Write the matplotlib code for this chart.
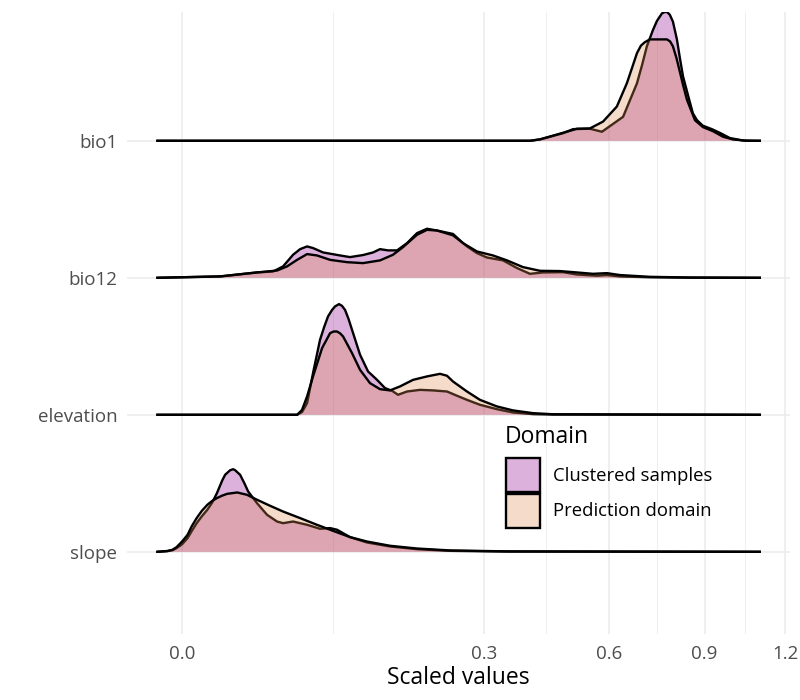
import numpy as np
import matplotlib.pyplot as plt
from matplotlib.patches import Patch
from matplotlib.colors import to_rgba

plt.rcParams['font.family'] = ['Open Sans', 'DejaVu Sans']

# rows from bottom to top
variables = ['slope', 'elevation', 'bio12', 'bio1']
domains = ['Clustered samples', 'Prediction domain']

x_breaks = [0.0, 0.3, 0.6, 0.9, 1.2]
x_minor = [0.075, 0.437, 0.742, 1.045]

# ridge heights are given in units of the row spacing
bio1_clu_x = [-0.002, 0.399, 0.422, 0.478, 0.504, 0.548, 0.581, 0.641, 0.682, 0.697, 0.712, 0.731,
              0.7432, 0.759, 0.768, 0.775, 0.784, 0.794, 0.807, 0.817, 0.827, 0.850, 0.860, 0.874,
              0.894, 0.925, 0.953, 0.989, 1.037, 1.100]
bio1_clu_h = [0, 0, 0.01, 0.055, 0.085, 0.088, 0.066, 0.175, 0.42, 0.55, 0.69, 0.81,
              0.875, 0.93, 0.94, 0.94, 0.92, 0.87, 0.74, 0.60, 0.47, 0.28, 0.20, 0.15,
              0.11, 0.085, 0.058, 0.02, 0.002, 0]
bio1_pre_x = [-0.002, 0.399, 0.422, 0.478, 0.514, 0.548, 0.584, 0.623, 0.652, 0.667, 0.682, 0.694,
              0.706, 0.721, 0.775, 0.785, 0.794, 0.806, 0.817, 0.828, 0.840, 0.867, 0.894, 0.929,
              0.964, 1.000, 1.051, 1.100]
bio1_pre_h = [0, 0, 0.01, 0.058, 0.088, 0.09, 0.14, 0.25, 0.42, 0.53, 0.64, 0.695,
              0.72, 0.74, 0.74, 0.725, 0.69, 0.60, 0.50, 0.40, 0.30, 0.15, 0.10, 0.07,
              0.03, 0.01, 0, 0]

bio12_clu_x = [-0.002, 0.0048, 0.0185, 0.0273, 0.0336, 0.0406, 0.0459, 0.0515, 0.0565, 0.0655,
               0.0822, 0.0930, 0.1079, 0.1202, 0.1291, 0.1398, 0.1523, 0.1668, 0.1819, 0.1977,
               0.2142, 0.2419, 0.2601, 0.2675, 0.2866, 0.3064, 0.3394, 0.3697, 0.3989, 0.4293,
               0.4781, 0.5139, 0.5673, 0.5949, 0.6319, 0.7214, 0.85, 1.10]
bio12_clu_h = [0, 0.01, 0.039, 0.046, 0.083, 0.168, 0.209, 0.229, 0.217, 0.185,
               0.163, 0.151, 0.166, 0.185, 0.209, 0.2, 0.2, 0.253, 0.326, 0.358,
               0.345, 0.32, 0.253, 0.229, 0.18, 0.148, 0.127, 0.071, 0.029, 0.039,
               0.041, 0.024, 0.015, 0.02, 0.01, 0.004, 0.001, 0]
bio12_pre_x = [-0.002, 0.0048, 0.0185, 0.0297, 0.0363, 0.0436, 0.0515, 0.0600, 0.0722, 0.0897,
               0.1079, 0.1291, 0.1466, 0.1609, 0.1819, 0.1977, 0.2142, 0.2419, 0.2601, 0.2866,
               0.3186, 0.3479, 0.3830, 0.4222, 0.4706, 0.5139, 0.5564, 0.5949, 0.6319, 0.7214,
               0.85, 1.10]
bio12_pre_h = [0, 0.01, 0.039, 0.053, 0.083, 0.131, 0.173, 0.163, 0.131, 0.114,
               0.107, 0.127, 0.168, 0.224, 0.314, 0.35, 0.345, 0.31, 0.253, 0.192,
               0.163, 0.127, 0.078, 0.051, 0.049, 0.039, 0.029, 0.034, 0.02, 0.007,
               0.002, 0]

elev_clu_x = [-0.002, 0.0436, 0.0474, 0.0515, 0.0565, 0.0627, 0.0665, 0.0702, 0.0741, 0.0771,
              0.0812, 0.0843, 0.0875, 0.0913, 0.0952, 0.1044, 0.1140, 0.1253, 0.1357, 0.1453,
              0.1537, 0.1668, 0.1866, 0.2075, 0.2313, 0.2491, 0.2675, 0.2925, 0.3268, 0.3609,
              0.4058, 0.4534, 1.10]
elev_clu_h = [0, 0, 0.02, 0.085, 0.304, 0.547, 0.64, 0.718, 0.765, 0.791,
              0.808, 0.795, 0.766, 0.70, 0.62, 0.438, 0.316, 0.255, 0.195, 0.175,
              0.146, 0.17, 0.182, 0.178, 0.17, 0.139, 0.109, 0.073, 0.041, 0.017,
              0.005, 0.002, 0]
elev_pre_x = [-0.002, 0.0436, 0.0474, 0.0515, 0.0565, 0.0646, 0.0722, 0.0757, 0.0791, 0.0822,
              0.0854, 0.0952, 0.1044, 0.1164, 0.1291, 0.1425, 0.1565, 0.1758, 0.1977, 0.2193,
              0.2313, 0.2419, 0.2675, 0.2925, 0.3268, 0.3609, 0.4058, 0.4534, 1.10]
elev_pre_h = [0, 0, 0.035, 0.134, 0.28, 0.487, 0.596, 0.608, 0.608, 0.595,
              0.572, 0.45, 0.328, 0.231, 0.187, 0.178, 0.207, 0.255, 0.28, 0.299,
              0.285, 0.243, 0.17, 0.109, 0.061, 0.032, 0.012, 0.004, 0]

slope_clu_x = [-0.002, -0.0007, -0.0003, -0.0001, 0.0, 0.0001, 0.0003, 0.0007, 0.0013, 0.0021,
               0.0030, 0.0040, 0.0053, 0.0061, 0.0076, 0.0086, 0.0093, 0.0111, 0.0128, 0.0144,
               0.0185, 0.0238, 0.0297, 0.0336, 0.0406, 0.0515, 0.0627, 0.0722, 0.0791, 0.0930,
               0.1127, 0.1425, 0.1819, 0.2366, 0.35, 1.10]
slope_clu_h = [0, 0.005, 0.012, 0.027, 0.055, 0.1, 0.15, 0.209, 0.26, 0.307,
               0.36, 0.428, 0.52, 0.562, 0.595, 0.603, 0.595, 0.562, 0.5, 0.44,
               0.355, 0.27, 0.221, 0.209, 0.221, 0.197, 0.168, 0.173, 0.161, 0.107,
               0.068, 0.039, 0.019, 0.007, 0.002, 0]
slope_pre_x = [-0.002, -0.0007, -0.0003, -0.0001, 0.0, 0.0001, 0.0003, 0.0007, 0.0013, 0.0021,
               0.0030, 0.0040, 0.0053, 0.0067, 0.0100, 0.0139, 0.0185, 0.0255, 0.0336, 0.0459,
               0.0600, 0.0722, 0.0930, 0.1127, 0.1425, 0.1819, 0.2366, 0.35, 1.10]
slope_pre_h = [0, 0.006, 0.015, 0.034, 0.075, 0.124, 0.185, 0.246, 0.30, 0.343,
               0.372, 0.392, 0.41, 0.423, 0.433, 0.416, 0.38, 0.336, 0.294, 0.246,
               0.197, 0.161, 0.107, 0.075, 0.044, 0.024, 0.01, 0.003, 0]

ridges = {
    'bio1': [(bio1_clu_x, bio1_clu_h), (bio1_pre_x, bio1_pre_h)],
    'bio12': [(bio12_clu_x, bio12_clu_h), (bio12_pre_x, bio12_pre_h)],
    'elevation': [(elev_clu_x, elev_clu_h), (elev_pre_x, elev_pre_h)],
    'slope': [(slope_clu_x, slope_clu_h), (slope_pre_x, slope_pre_h)],
}

fills = [to_rgba('#8B008B', 0.3), to_rgba('#E18A52', 0.3)]
grid_col = '#EBEBEB'


def fwd(x):
    x = np.asarray(x, dtype=float)
    return np.sign(x) * np.sqrt(np.abs(x))


def inv(x):
    x = np.asarray(x, dtype=float)
    return np.sign(x) * x ** 2


fig = plt.figure(figsize=(8, 7), dpi=100)
ax = fig.add_axes([127 / 800, 66 / 700, 663 / 800, 622 / 700])
ax.set_xscale('function', functions=(fwd, inv))

# grid
for xb in x_breaks:
    ax.axvline(xb, color=grid_col, lw=1.1, zorder=0)
for xm in x_minor:
    ax.axvline(xm, color=grid_col, lw=0.55, zorder=0)
for i in range(len(variables)):
    ax.axhline(i + 1, color=grid_col, lw=1.1, zorder=0)

# ridges, top row first so lower rows sit in front
z = 1
for i in reversed(range(len(variables))):
    base = i + 1
    for (xs, hs), fc in zip(ridges[variables[i]], fills):
        xs = np.array(xs)
        ys = base + np.array(hs)
        ax.fill_between(xs, base, ys, facecolor=fc, edgecolor='none', zorder=z)
        ax.plot(xs, ys, color='black', lw=1.7, zorder=z + 0.5, solid_joinstyle='round')
        z += 1

ax.set_xlim(-0.01, 1.218)
ax.set_ylim(0.40, 4.94)
ax.set_xticks(x_breaks)
ax.set_xticklabels([f'{v:.1f}' for v in x_breaks])
ax.set_xticks([], minor=True)
ax.set_yticks(range(1, len(variables) + 1))
ax.set_yticklabels(variables)
ax.tick_params(axis='both', length=0, labelsize=13.5, labelcolor='#4D4D4D')
ax.tick_params(axis='y', pad=7)
ax.tick_params(axis='x', pad=8)
for s in ax.spines.values():
    s.set_visible(False)
ax.set_xlabel('Scaled values', fontsize=16.5, color='black', labelpad=2)

fig.text(505 / 800, 1 - 437 / 700, 'Domain', fontsize=16.5, ha='left', va='center')
handles = [Patch(facecolor=fc, edgecolor='black', linewidth=1.7, label=d)
           for fc, d in zip(fills, domains)]
leg = ax.legend(handles=handles, loc='upper left',
                bbox_to_anchor=(506 / 800, 1 - 458 / 700), bbox_transform=fig.transFigure,
                frameon=False, fontsize=13.3,
                handlelength=1.84, handleheight=2.45, labelspacing=0.1, handletextpad=0.7,
                borderpad=0, borderaxespad=0)

fig.savefig('out.png', dpi=100)
